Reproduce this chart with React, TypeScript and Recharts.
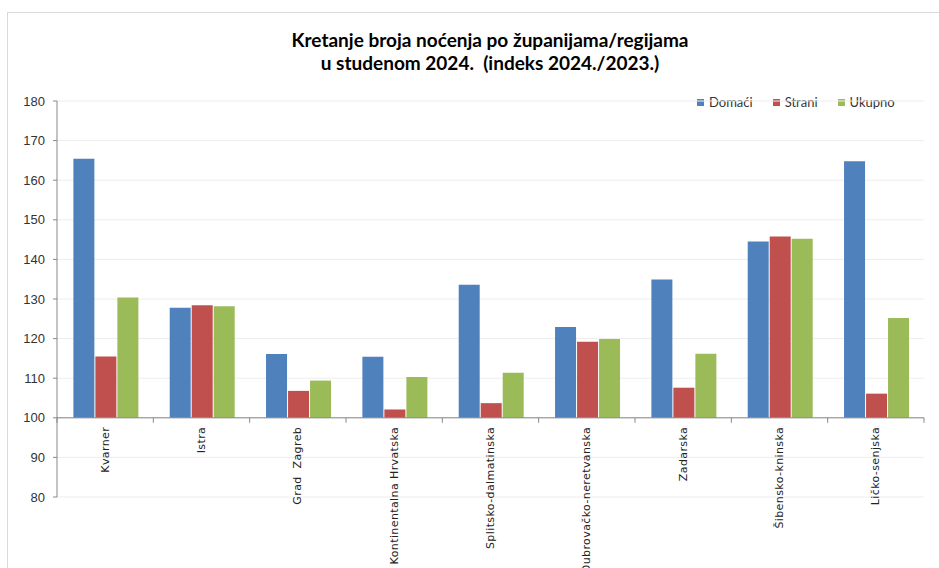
import { BarChart, Bar, XAxis, YAxis, CartesianGrid, ReferenceLine } from 'recharts';

const categories = [
  'Kvarner',
  'Istra',
  'Grad  Zagreb',
  'Kontinentalna Hrvatska',
  'Splitsko-dalmatinska',
  'Dubrovačko-neretvanska',
  'Zadarska',
  'Šibensko-kninska',
  'Ličko-senjska',
];
const domaci = [165.4, 127.8, 116.1, 115.4, 133.6, 122.9, 134.9, 144.5, 164.8];
const strani = [115.5, 128.4, 106.8, 102.1, 103.7, 119.2, 107.6, 145.8, 106.1];
const ukupno = [130.4, 128.2, 109.4, 110.3, 111.4, 119.9, 116.2, 145.2, 125.2];
const yTicks = [80, 90, 100, 110, 120, 130, 140, 150, 160, 170, 180];

const series = [
  { key: 'domaci', name: 'Domaći', color: '#4F81BD' },
  { key: 'strani', name: 'Strani', color: '#C0504D' },
  { key: 'ukupno', name: 'Ukupno', color: '#9BBB59' },
];

const data = categories.map((name, i) => ({
  name,
  domaci: domaci[i],
  strani: strani[i],
  ukupno: ukupno[i],
}));

const W = 939;
const H = 568;
const margin = { top: 101, right: 15, left: 0, bottom: 0 };
const xAxisHeight = 71;
const yMin = 80;
const yMax = 180;
const base = 100;
// the category axis sits on the 100 line, not on the bottom of the plot
const plotH = H - margin.top - margin.bottom - xAxisHeight;
const axisShift = (plotH * (base - yMin)) / (yMax - yMin);

const CategoryTick = (props: any) => {
  const { x, y, payload, index } = props;
  const half = payload?.offset ?? 48;
  const ay = y - axisShift;
  return (
    <g>
      <line x1={x - half} x2={x - half} y1={ay} y2={ay + 5} stroke="#888" />
      {index === categories.length - 1 && (
        <line x1={x + half} x2={x + half} y1={ay} y2={ay + 5} stroke="#888" />
      )}
      <text
        x={x}
        y={ay + 9}
        transform={`rotate(-90, ${x}, ${ay + 9})`}
        textAnchor="end"
        dominantBaseline="central"
        fontFamily="DejaVu Sans"
        fontSize={11}
        letterSpacing={0.4}
        fill="#222"
        style={{ whiteSpace: 'pre' }}
      >
        {payload.value}
      </text>
    </g>
  );
};

export default function App() {
  return (
    <div style={{ position: 'absolute', left: 0, top: 0, width: W, height: H, overflow: 'hidden', background: '#fff' }}>
      <div
        style={{
          position: 'absolute',
          left: 7,
          top: 12,
          width: 1000,
          height: 700,
          borderLeft: '1px solid #d9d9d9',
          borderTop: '1px solid #d9d9d9',
        }}
      />
      <div
        style={{
          position: 'absolute',
          left: 240,
          width: 500,
          top: 28,
          textAlign: 'center',
          fontFamily: 'Lato',
          fontWeight: 700,
          fontSize: 19,
          lineHeight: '23px',
          color: '#000',
        }}
      >
        <div style={{ whiteSpace: 'nowrap' }}>Kretanje broja noćenja po županijama/regijama</div>
        <div style={{ whiteSpace: 'pre' }}>u studenom 2024.  (indeks 2024./2023.)</div>
      </div>
      <div
        style={{
          position: 'absolute',
          left: 697,
          top: 94,
          display: 'flex',
          fontFamily: 'Lato',
          fontSize: 13,
          color: '#333',
        }}
      >
        {series.map((s) => (
          <div key={s.key} style={{ display: 'flex', alignItems: 'center', marginRight: 20 }}>
            <span style={{ width: 7, height: 7, background: s.color, marginRight: 5, display: 'inline-block' }} />
            {s.name}
          </div>
        ))}
      </div>
      <div style={{ position: 'absolute', left: 0, top: 0 }}>
        <BarChart
          width={W}
          height={H}
          data={data}
          margin={margin}
          barCategoryGap="17%"
          barGap={1}
        >
          <CartesianGrid horizontal vertical={false} stroke="#ededed" />
          <XAxis
            dataKey="name"
            height={xAxisHeight}
            interval={0}
            axisLine={false}
            tickLine={false}
            tickSize={0}
            tickMargin={0}
            tick={<CategoryTick />}
          />
          <YAxis
            width={57}
            domain={[yMin, yMax]}
            ticks={yTicks}
            allowDataOverflow
            stroke="#888"
            tickSize={4}
            tickMargin={8}
            tick={{ fontFamily: 'Liberation Sans', fontSize: 13, fill: '#333' }}
          />
          <ReferenceLine y={base} stroke="#888" />
          {series.map((s) => (
            <Bar
              key={s.key}
              dataKey={(d: any) => [base, d[s.key]]}
              name={s.name}
              fill={s.color}
              isAnimationActive={false}
            />
          ))}
        </BarChart>
      </div>
    </div>
  );
}
